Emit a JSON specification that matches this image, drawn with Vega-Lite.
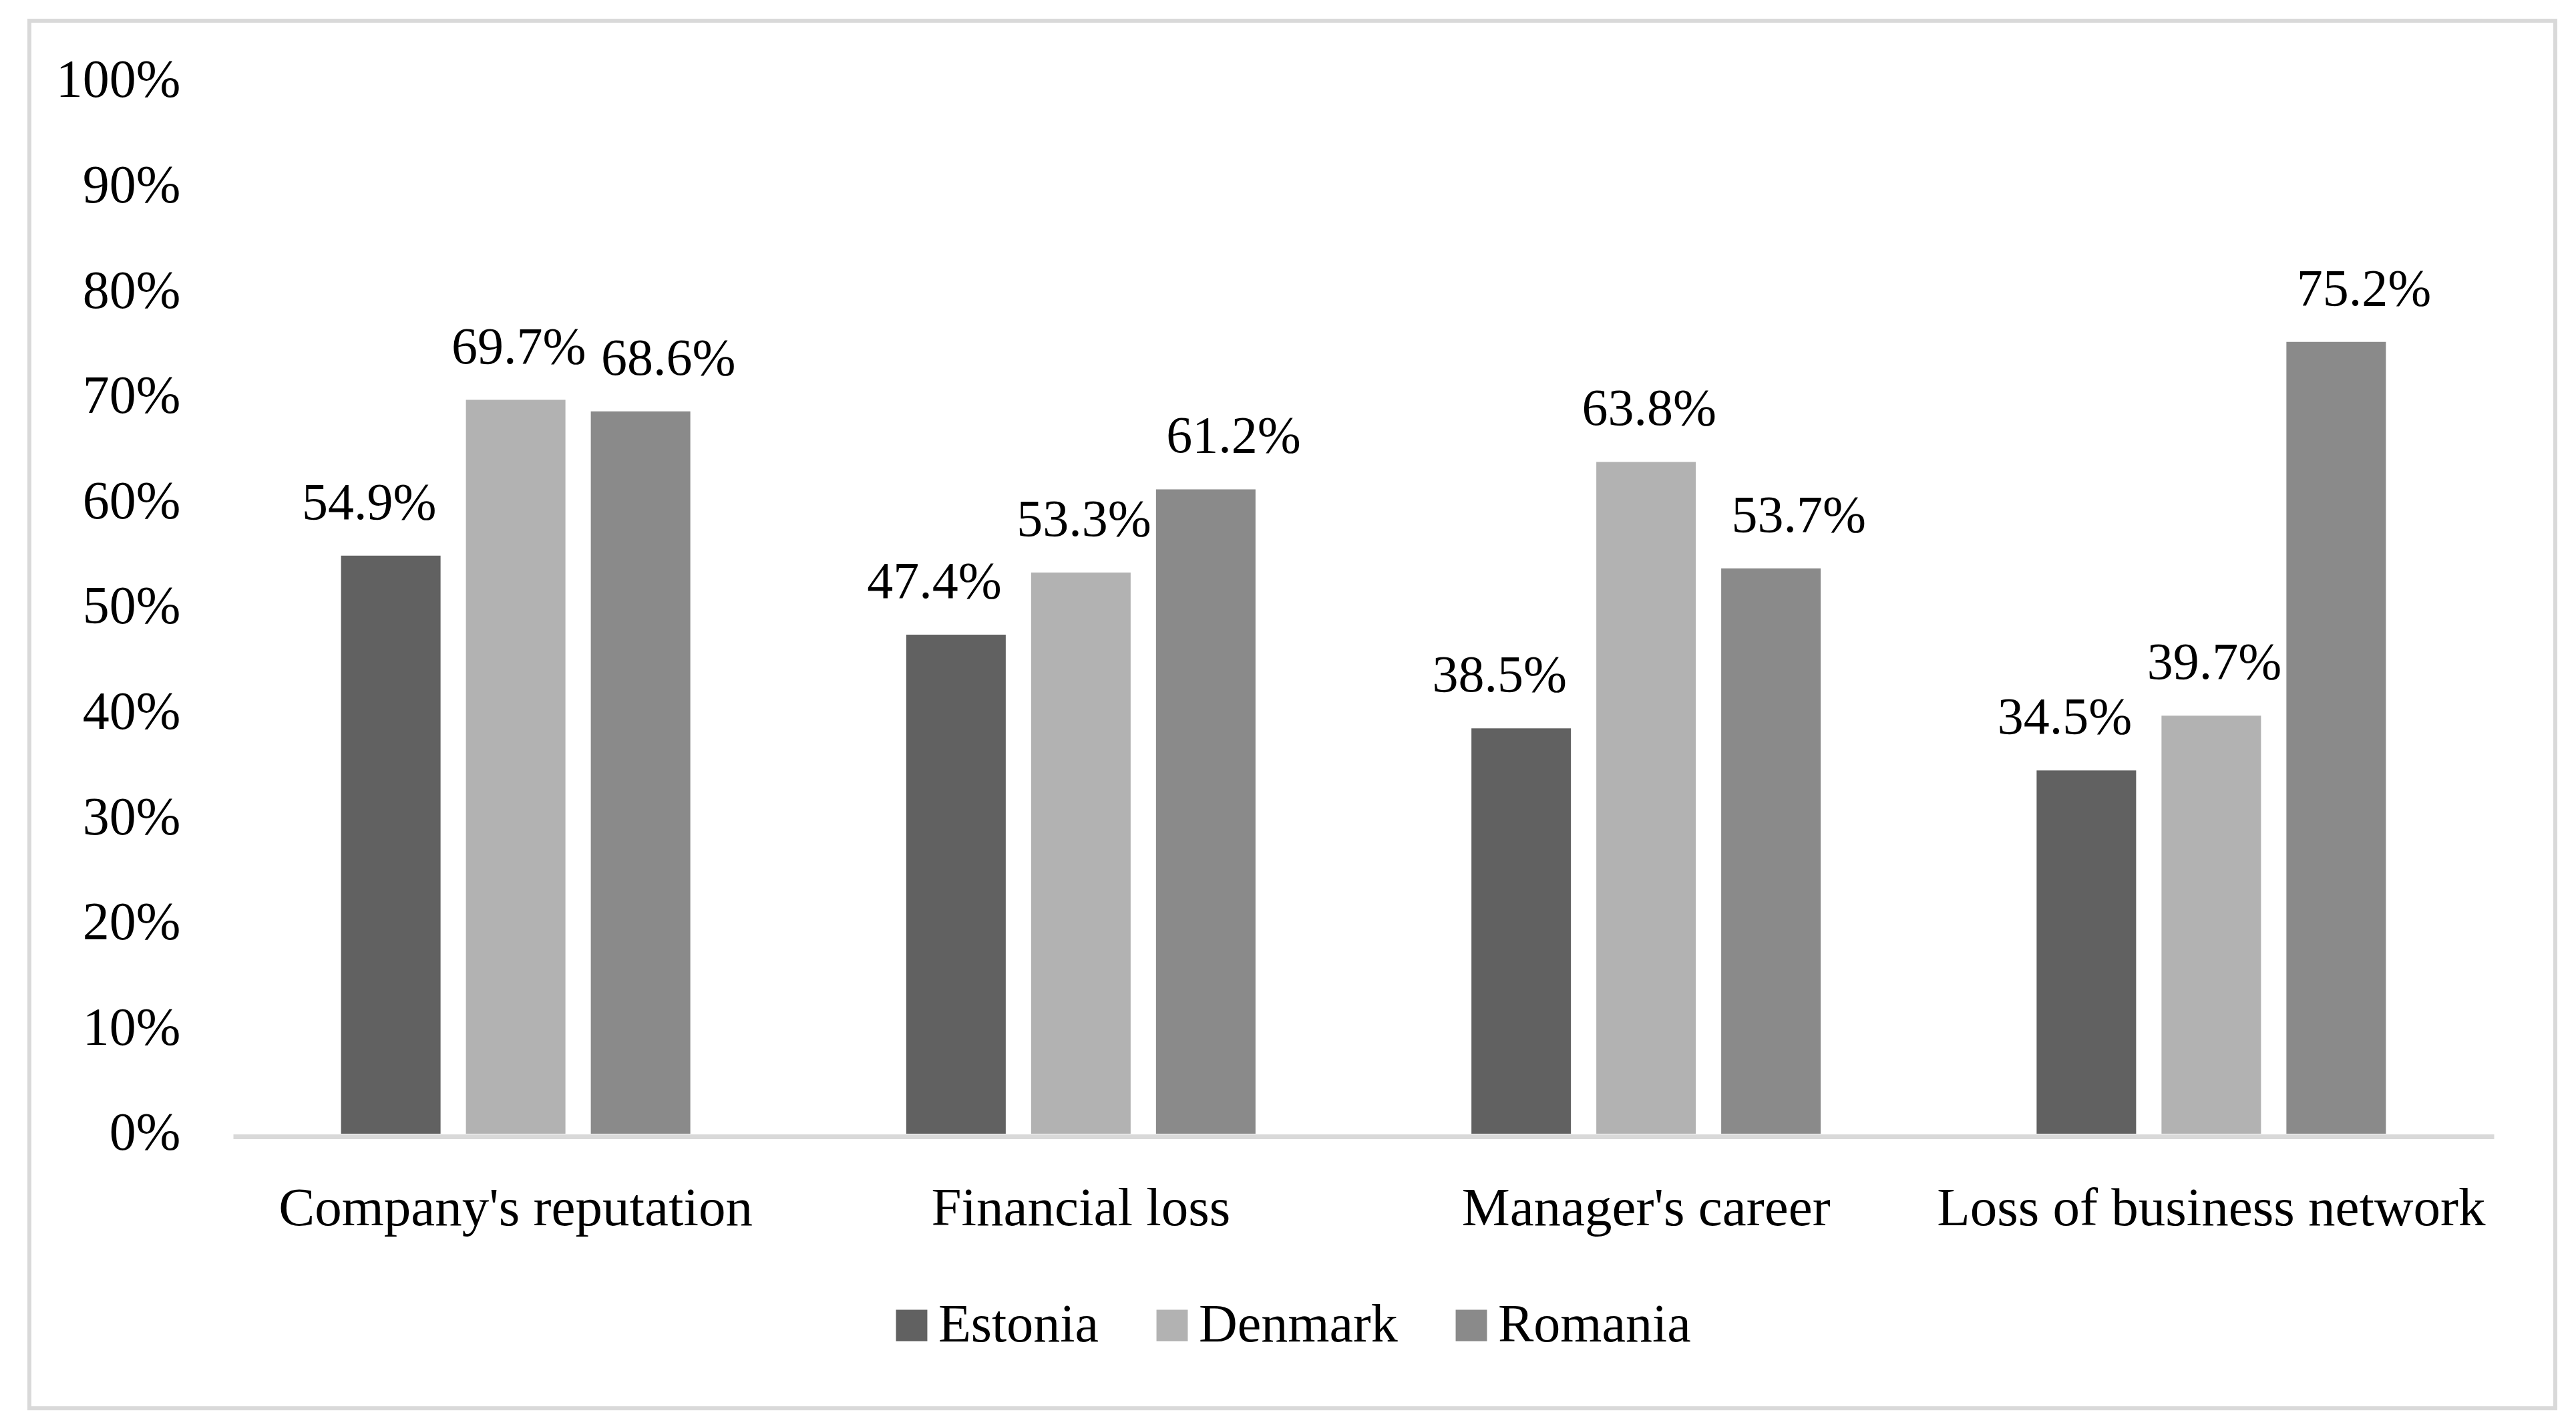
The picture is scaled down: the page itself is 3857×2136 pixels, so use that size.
{
  "$schema": "https://vega.github.io/schema/vega-lite/v6.json",
  "width": 3782,
  "height": 2077,
  "autosize": {"type": "none"},
  "padding": {"left": 44, "top": 31, "right": 31, "bottom": 28},
  "background": "white",
  "config": {
    "view": {"stroke": "#d9d9d9", "strokeWidth": 6},
    "font": "Liberation Serif",
    "text": {"font": "Liberation Serif"}
  },
  "data": {
    "values": [
      {"impact": "Company's reputation", "country": "Estonia", "share": 0.549},
      {"impact": "Company's reputation", "country": "Denmark", "share": 0.697},
      {"impact": "Company's reputation", "country": "Romania", "share": 0.686},
      {"impact": "Financial loss", "country": "Estonia", "share": 0.474},
      {"impact": "Financial loss", "country": "Denmark", "share": 0.533},
      {"impact": "Financial loss", "country": "Romania", "share": 0.612},
      {"impact": "Manager's career", "country": "Estonia", "share": 0.385},
      {"impact": "Manager's career", "country": "Denmark", "share": 0.638},
      {"impact": "Manager's career", "country": "Romania", "share": 0.537},
      {"impact": "Loss of business network", "country": "Estonia", "share": 0.345},
      {"impact": "Loss of business network", "country": "Denmark", "share": 0.397},
      {"impact": "Loss of business network", "country": "Romania", "share": 0.752}
    ]
  },
  "encoding": {
    "x": {
      "field": "impact",
      "type": "nominal",
      "sort": ["Company's reputation", "Financial loss", "Manager's career", "Loss of business network"],
      "scale": {"range": [305, 3690], "paddingInner": 0.382, "paddingOuter": 0.191},
      "axis": {
        "title": null,
        "orient": "bottom",
        "offset": -407,
        "ticks": false,
        "domain": true,
        "domainColor": "#d9d9d9",
        "domainWidth": 7,
        "labelAngle": 0,
        "labelFont": "Liberation Serif",
        "labelFontSize": 81,
        "labelColor": "black",
        "labelBaseline": "alphabetic",
        "labelPadding": 132,
        "labelLimit": 0
      }
    },
    "y": {
      "field": "share",
      "type": "quantitative",
      "scale": {"domain": [-0.2608, 1.0571], "nice": false, "zero": false},
      "axis": {
        "title": null,
        "values": [0, 0.1, 0.2, 0.3, 0.4, 0.5, 0.6, 0.7, 0.8, 0.9, 1.0],
        "format": ".0%",
        "offset": -226,
        "ticks": false,
        "domain": false,
        "grid": false,
        "labelFont": "Liberation Serif",
        "labelFontSize": 80,
        "labelColor": "black",
        "labelPadding": 0,
        "labelLimit": 0
      }
    }
  },
  "layer": [
    {
      "mark": {"type": "bar"},
      "encoding": {
        "xOffset": {
          "field": "country",
          "type": "nominal",
          "sort": ["Estonia", "Denmark", "Romania"],
          "scale": {"paddingInner": 0.2032, "paddingOuter": 0}
        },
        "y2": {"datum": 0},
        "color": {
          "field": "country",
          "type": "nominal",
          "scale": {"domain": ["Estonia", "Denmark", "Romania"], "range": ["#616161", "#b2b2b2", "#8a8a8a"]},
          "legend": {
            "title": null,
            "orient": "none",
            "direction": "horizontal",
            "legendX": 1281,
            "legendY": 1913,
            "symbolType": "square",
            "symbolSize": 2200,
            "symbolStrokeWidth": 0,
            "labelFont": "Liberation Serif",
            "labelFontSize": 80,
            "labelColor": "black",
            "labelOffset": 0,
            "labelLimit": 0,
            "columnPadding": 70,
            "padding": 0
          }
        }
      }
    },
    {
      "mark": {"type": "text", "baseline": "alphabetic", "dy": -55, "fontSize": 78, "font": "Liberation Serif", "color": "black"},
      "encoding": {
        "xOffset": {
          "field": "country",
          "type": "nominal",
          "sort": ["Estonia", "Denmark", "Romania"],
          "scale": {"type": "point", "range": [42, 490], "padding": 0}
        },
        "text": {"field": "share", "type": "quantitative", "format": ".1%"}
      }
    }
  ],
  "resolve": {"scale": {"xOffset": "independent"}}
}
